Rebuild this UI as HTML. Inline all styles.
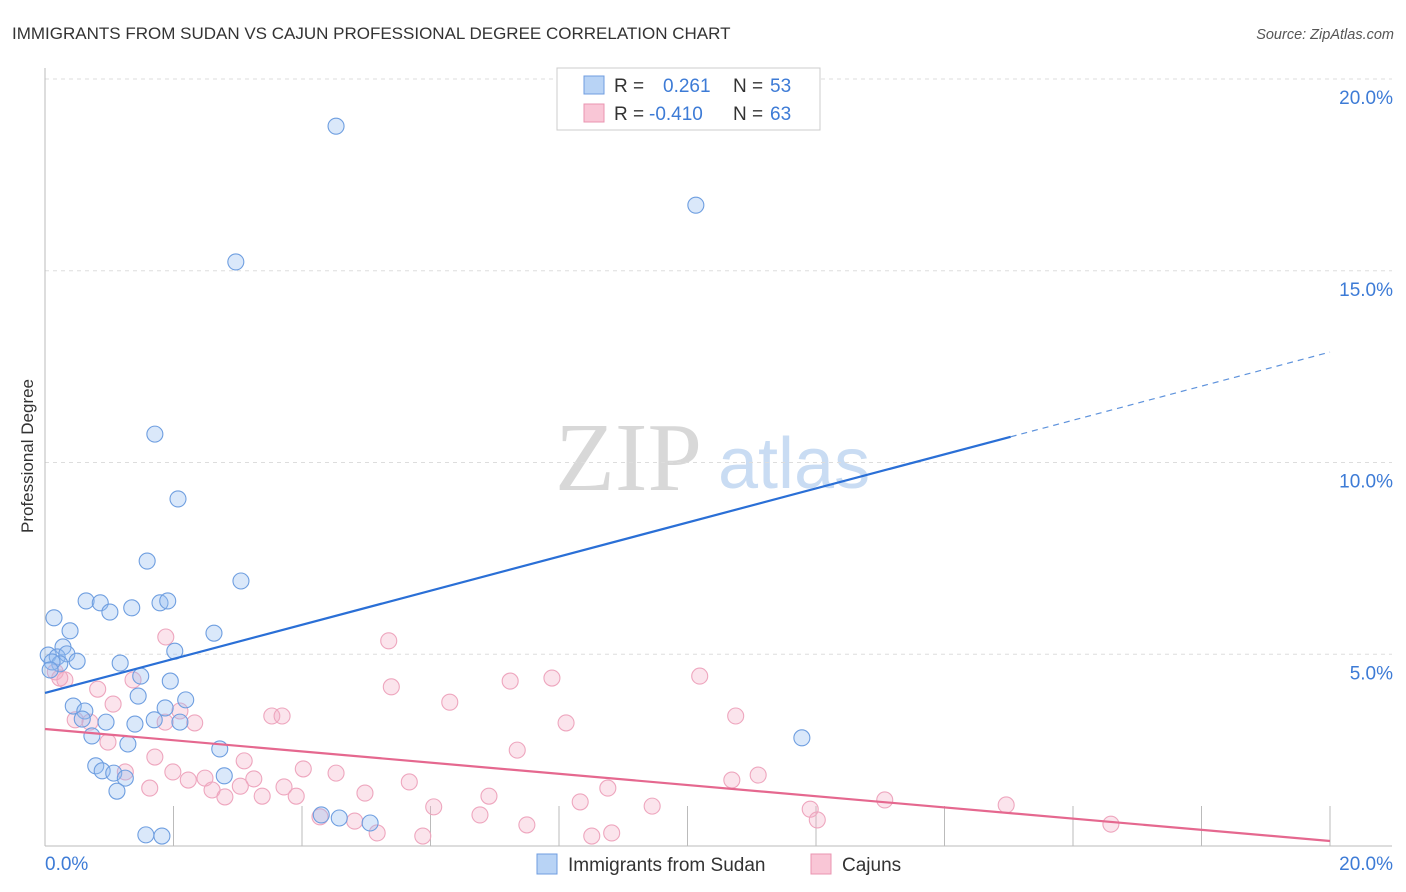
<!DOCTYPE html>
<html><head><meta charset="utf-8"><style>
body{margin:0;background:#fff;font-family:"Liberation Sans",sans-serif;}
svg{display:block}
</style></head><body>
<svg id="chart" width="1406" height="892" xmlns="http://www.w3.org/2000/svg">
<text x="12" y="39" font-size="17" fill="#333" font-family="Liberation Sans, sans-serif">IMMIGRANTS FROM SUDAN VS CAJUN PROFESSIONAL DEGREE CORRELATION CHART</text>
<text x="1394" y="39" font-size="14.5" fill="#555" text-anchor="end" font-style="italic">Source: ZipAtlas.com</text>
<g>
<text x="555" y="490" font-size="98" fill="#d8d8d8" font-family="Liberation Serif, serif">ZIP</text>
<text x="718" y="488" font-size="72" fill="#c9dcf3">atlas</text>
</g>
<g id="grid"></g>
<g id="axes"></g>
<g id="pts"></g>
<g id="trends"></g>
<text transform="translate(33,456) rotate(-90)" font-size="17" fill="#333" text-anchor="middle">Professional Degree</text>
<g>
<rect x="557" y="68" width="263" height="62" fill="#fff" stroke="#ccc"/>
<rect x="584" y="76" width="20" height="18" fill="#b8d3f5" stroke="#6f9de0"/>
<rect x="584" y="104" width="20" height="18" fill="#f9c6d6" stroke="#ea94b0"/>
<text x="614" y="92" font-size="19" fill="#333">R =</text>
<text x="663" y="92" font-size="19" fill="#3d7bd6">0.261</text>
<text x="733" y="92" font-size="19" fill="#333">N =</text>
<text x="770" y="92" font-size="19" fill="#3d7bd6">53</text>
<text x="614" y="120" font-size="19" fill="#333">R =</text>
<text x="649" y="120" font-size="19" fill="#3d7bd6">-0.410</text>
<text x="733" y="120" font-size="19" fill="#333">N =</text>
<text x="770" y="120" font-size="19" fill="#3d7bd6">63</text>
</g>
<g>
<g><rect x="537" y="854" width="20" height="20" fill="#b8d3f5" stroke="#6f9de0"/><text x="568" y="871" font-size="19" fill="#333">Immigrants from Sudan</text></g>
<g><rect x="811" y="854" width="20" height="20" fill="#f9c6d6" stroke="#ea94b0"/><text x="842" y="871" font-size="19" fill="#333">Cajuns</text></g>
</g>
</svg>
<script>
const sudanX=[4.53,10.13,2.97,1.71,2.07,1.59,3.05,0.64,0.86,1.01,1.35,1.79,1.91,0.14,0.39,2.63,0.28,2.02,0.05,0.19,0.34,0.50,1.17,0.23,1.49,1.95,1.45,2.19,0.44,0.62,1.87,0.58,1.70,2.10,0.95,1.40,0.73,1.29,2.72,11.78,0.79,0.89,1.07,1.25,2.79,1.12,4.30,4.58,5.06,1.57,1.82,0.11,0.08];
const sudanY=[18.77,16.71,15.23,10.74,9.05,7.43,6.91,6.39,6.34,6.10,6.21,6.34,6.39,5.95,5.61,5.55,5.19,5.08,4.98,4.93,5.01,4.82,4.77,4.75,4.43,4.30,3.91,3.81,3.65,3.52,3.60,3.31,3.29,3.23,3.23,3.18,2.87,2.66,2.53,2.82,2.09,1.96,1.90,1.77,1.83,1.43,0.81,0.73,0.60,0.29,0.26,4.80,4.59];
const cajunX=[0.16,0.31,0.82,1.06,1.37,1.88,5.35,5.39,6.30,7.24,7.89,10.19,10.75,8.11,7.35,2.10,2.33,3.53,3.69,0.47,0.70,0.98,1.71,3.10,1.99,2.23,2.49,1.25,1.63,2.60,2.80,3.04,3.25,3.38,3.91,4.02,4.53,3.72,4.98,5.67,6.05,6.77,6.91,7.50,8.33,8.76,8.51,8.82,9.45,10.69,11.10,11.91,12.02,13.07,14.96,16.59,4.28,4.82,5.17,5.88,1.87,0.23];
const cajunY=[4.54,4.33,4.09,3.70,4.33,5.45,5.35,4.15,3.75,4.30,4.38,4.43,3.39,3.21,2.50,3.52,3.21,3.39,3.39,3.29,3.23,2.71,2.32,2.22,1.93,1.72,1.77,1.93,1.51,1.46,1.28,1.56,1.75,1.30,1.30,2.01,1.90,1.54,1.38,1.67,1.02,0.81,1.30,0.55,1.15,1.51,0.26,0.34,1.04,1.72,1.85,0.96,0.68,1.20,1.07,0.57,0.76,0.65,0.34,0.26,3.23,4.38];
const yTicks=[5,10,15,20];
const yTickLabels=["5.0%","10.0%","15.0%","20.0%"];
const xTickLabels=["0.0%","20.0%"];
const sudanTrend=[3.99,12.88];
const cajunTrend=[3.05,0.13];

const NS="http://www.w3.org/2000/svg";
const X0=45,X1=1330,Y0=846,Y1=79;
const sx=v=>X0+(X1-X0)*v/20;
const sy=v=>Y0-(Y0-Y1)*v/20;
function mk(tag,attrs,parent){const e=document.createElementNS(NS,tag);for(const k in attrs)e.setAttribute(k,attrs[k]);parent.appendChild(e);return e;}
const grid=document.getElementById('grid'),axes=document.getElementById('axes'),pts=document.getElementById('pts'),tr=document.getElementById('trends');
yTicks.forEach((t,i)=>{
  const l=mk('line',{x1:X0,x2:1392,y1:sy(t),y2:sy(t),stroke:'#ddd','stroke-dasharray':'4,4'},grid);
  
  
  const tx=mk('text',{x:1393,y:sy(t)+25,'font-size':19,fill:'#3d7bd6','text-anchor':'end'},grid);
  tx.textContent=yTickLabels[i];
  
  
});
const ax=mk('line',{x1:X0,x2:X0,y1:68,y2:Y0,stroke:'#bbb'},axes);


const bx=mk('line',{x1:X0,x2:1392,y1:Y0,y2:Y0,stroke:'#bbb'},axes);


for(let i=1;i<=10;i++){
  const t=mk('line',{x1:sx(i*2),x2:sx(i*2),y1:806,y2:Y0,stroke:'#bbb'},axes);
  
  
}
const xl0=mk('text',{x:45,y:870,'font-size':19,fill:'#3d7bd6'},axes);xl0.textContent=xTickLabels[0];


const xl1=mk('text',{x:1393,y:870,'font-size':19,fill:'#3d7bd6','text-anchor':'end'},axes);xl1.textContent=xTickLabels[1];


cajunX.forEach((x,i)=>{
  const c=mk('circle',{cx:sx(x),cy:sy(cajunY[i]),r:8,fill:'rgba(244,170,195,0.32)',stroke:'#eea6be','stroke-width':1.1},pts);
  
  
});
sudanX.forEach((x,i)=>{
  const c=mk('circle',{cx:sx(x),cy:sy(sudanY[i]),r:8,fill:'rgba(150,190,240,0.35)',stroke:'#6e9ee0','stroke-width':1.1},pts);
  
  
});
const xs=15.03;
const yAt=(a,x)=>a[0]+(a[1]-a[0])*x/20;
const b1=mk('line',{x1:sx(0),y1:sy(sudanTrend[0]),x2:sx(xs),y2:sy(yAt(sudanTrend,xs)),stroke:'#2a6fd6','stroke-width':2.2},tr);


const b2=mk('line',{x1:sx(xs),y1:sy(yAt(sudanTrend,xs)),x2:sx(20),y2:sy(sudanTrend[1]),stroke:'#5f93dc','stroke-width':1.2,'stroke-dasharray':'6,5'},tr);


const p1=mk('line',{x1:sx(0),y1:sy(cajunTrend[0]),x2:sx(20),y2:sy(cajunTrend[1]),stroke:'#e5688f','stroke-width':2.2},tr);


</script>
</body></html>
